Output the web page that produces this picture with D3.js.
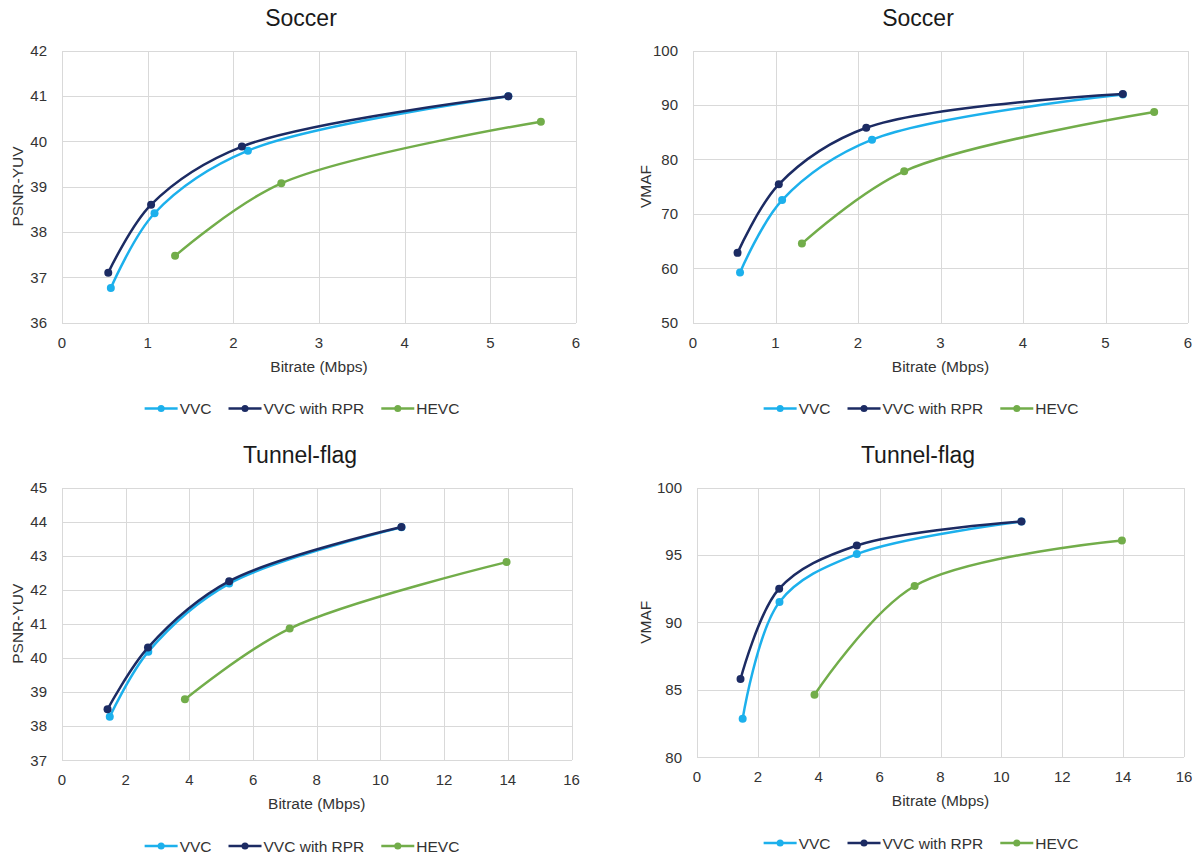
<!DOCTYPE html>
<html>
<head>
<meta charset="utf-8">
<script src="https://cdn.jsdelivr.net/npm/d3@7"></script>
<style>
  html, body { margin: 0; padding: 0; background: #fff; }
  svg { display: block; font-family: "Liberation Sans", Arial, sans-serif; }
  .grid line { stroke: #d9d9d9; stroke-width: 1; shape-rendering: crispEdges; }
  .tick-label { font-size: 15px; fill: #333; }
  .axis-title { font-size: 15.5px; fill: #333; }
  .chart-title { font-size: 23px; fill: #1a1a1a; }
  .legend-text { font-size: 15.5px; fill: #333; }
</style>
</head>
<body>
<svg id="chart" width="1203" height="856"></svg>
<script>
// series names and colours
const seriesNames = ["VVC", "VVC with RPR", "HEVC"];
const seriesColors = ["#1cb0ec", "#1c2b63", "#72ad4a"];

// Soccer bitrates (Mbps)
const soccerRateVVC = [0.57, 1.08, 2.17, 5.21];
const soccerRateRPR = [0.54, 1.04, 2.10, 5.21];
const soccerRateHEVC = [1.32, 2.56, 5.59];
// Soccer PSNR-YUV
const soccerPsnrVVC = [36.76, 38.41, 39.79, 40.99];
const soccerPsnrRPR = [37.10, 38.60, 39.88, 40.99];
const soccerPsnrHEVC = [37.47, 39.07, 40.43];
// Soccer VMAF
const soccerVmafVVC = [59.2, 72.5, 83.6, 91.9];
const soccerVmafRPR = [62.8, 75.4, 85.8, 92.0];
const soccerVmafHEVC = [64.5, 77.8, 88.7];

// Tunnel-flag bitrates (Mbps)
const tunnelRateVVC = [1.50, 2.71, 5.25, 10.66];
const tunnelRateRPR = [1.43, 2.70, 5.25, 10.66];
const tunnelRateHEVC = [3.86, 7.15, 13.96];
// Tunnel-flag PSNR-YUV
const tunnelPsnrVVC = [38.27, 40.18, 42.18, 43.83];
const tunnelPsnrRPR = [38.49, 40.30, 42.25, 43.84];
const tunnelPsnrHEVC = [38.78, 40.86, 42.81];
// Tunnel-flag VMAF
const tunnelVmafVVC = [82.84, 91.51, 95.06, 97.47];
const tunnelVmafRPR = [85.78, 92.49, 95.70, 97.48];
const tunnelVmafHEVC = [84.62, 92.69, 96.07];

// axis ranges and tick steps
const soccerX = [0, 6, 1];
const tunnelX = [0, 16, 2];
const soccerPsnrY = [36, 42, 1];
const soccerVmafY = [50, 100, 10];
const tunnelPsnrY = [37, 45, 1];
const tunnelVmafY = [80, 100, 5];

const zip = (xs, ys) => xs.map((x, i) => ({ x: x, y: ys[i] }));

const panels = [
  { title: "Soccer", yTitle: "PSNR-YUV", xr: soccerX, yr: soccerPsnrY,
    series: [zip(soccerRateVVC, soccerPsnrVVC), zip(soccerRateRPR, soccerPsnrRPR), zip(soccerRateHEVC, soccerPsnrHEVC)],
    box: { l: 62, r: 576, t: 50.5, b: 322.5 }, titleX: 301, yTitleX: 17, legendX: 302 },
  { title: "Soccer", yTitle: "VMAF", xr: soccerX, yr: soccerVmafY,
    series: [zip(soccerRateVVC, soccerVmafVVC), zip(soccerRateRPR, soccerVmafRPR), zip(soccerRateHEVC, soccerVmafHEVC)],
    box: { l: 693, r: 1188, t: 50.5, b: 322.5 }, titleX: 918, yTitleX: 645, legendX: 921 },
  { title: "Tunnel-flag", yTitle: "PSNR-YUV", xr: tunnelX, yr: tunnelPsnrY,
    series: [zip(tunnelRateVVC, tunnelPsnrVVC), zip(tunnelRateRPR, tunnelPsnrRPR), zip(tunnelRateHEVC, tunnelPsnrHEVC)],
    box: { l: 62, r: 571.5, t: 487.5, b: 760 }, titleX: 300, yTitleX: 17, legendX: 302 },
  { title: "Tunnel-flag", yTitle: "VMAF", xr: tunnelX, yr: tunnelVmafY,
    series: [zip(tunnelRateVVC, tunnelVmafVVC), zip(tunnelRateRPR, tunnelVmafRPR), zip(tunnelRateHEVC, tunnelVmafHEVC)],
    box: { l: 697, r: 1184, t: 487.5, b: 757 }, titleX: 918, yTitleX: 645, legendX: 921 }
];

const svg = d3.select("#chart");

function stepTicks(r) { return d3.range(r[0], r[1] + r[2] / 2, r[2]); }

panels.forEach(p => {
  const g = svg.append("g");
  const x = d3.scaleLinear().domain([p.xr[0], p.xr[1]]).range([p.box.l, p.box.r]);
  const y = d3.scaleLinear().domain([p.yr[0], p.yr[1]]).range([p.box.b, p.box.t]);
  const xt = stepTicks(p.xr), yt = stepTicks(p.yr);

  // gridlines (including frame)
  const grid = g.append("g").attr("class", "grid");
  grid.selectAll(".gx").data(xt).enter().append("line")
    .attr("x1", d => Math.round(x(d)) + 0.5).attr("x2", d => Math.round(x(d)) + 0.5)
    .attr("y1", p.box.t).attr("y2", p.box.b);
  grid.selectAll(".gy").data(yt).enter().append("line")
    .attr("x1", p.box.l).attr("x2", p.box.r)
    .attr("y1", d => Math.round(y(d)) + 0.5).attr("y2", d => Math.round(y(d)) + 0.5);

  // tick labels
  g.selectAll(".xl").data(xt).enter().append("text").attr("class", "tick-label")
    .attr("x", d => x(d)).attr("y", p.box.b + 25).attr("text-anchor", "middle").text(d => d);
  g.selectAll(".yl").data(yt).enter().append("text").attr("class", "tick-label")
    .attr("x", p.box.l - 15).attr("y", d => y(d) + 5.5).attr("text-anchor", "end").text(d => d);

  // titles
  g.append("text").attr("class", "chart-title").attr("x", p.titleX).attr("y", p.box.t - 25)
    .attr("text-anchor", "middle").text(p.title);
  g.append("text").attr("class", "axis-title").attr("x", (p.box.l + p.box.r) / 2).attr("y", p.box.b + 49)
    .attr("text-anchor", "middle").text("Bitrate (Mbps)");
  const yc = (p.box.t + p.box.b) / 2;
  g.append("text").attr("class", "axis-title")
    .attr("transform", `translate(${p.yTitleX + 5.5},${yc}) rotate(-90)`)
    .attr("text-anchor", "middle").text(p.yTitle);

  // series
  const line = d3.line().x(d => x(d.x)).y(d => y(d.y)).curve(d3.curveCatmullRom.alpha(0.5));
  p.series.forEach((s, i) => {
    g.append("path").datum(s).attr("d", line).attr("fill", "none")
      .attr("stroke", seriesColors[i]).attr("stroke-width", 2.5).attr("stroke-linejoin", "round");
    g.selectAll(null).data(s).enter().append("circle")
      .attr("cx", d => x(d.x)).attr("cy", d => y(d.y)).attr("r", 4)
      .attr("fill", seriesColors[i]);
  });

  // legend
  const ly = p.box.b + 86;
  const lg = g.append("g");
  let cx = 0;
  seriesNames.forEach((name, i) => {
    const it = lg.append("g").attr("transform", `translate(${cx},0)`);
    it.append("line").attr("x1", 0).attr("x2", 33).attr("y1", ly).attr("y2", ly)
      .attr("stroke", seriesColors[i]).attr("stroke-width", 2.5);
    it.append("circle").attr("cx", 16.5).attr("cy", ly).attr("r", 3.5).attr("fill", seriesColors[i]);
    const t = it.append("text").attr("class", "legend-text").attr("x", 35).attr("y", ly + 5.5).text(name);
    cx += 35 + t.node().getComputedTextLength() + 17;
  });
  const w = cx - 17;
  lg.attr("transform", `translate(${p.legendX - w / 2},0)`);
});
</script>
</body>
</html>
